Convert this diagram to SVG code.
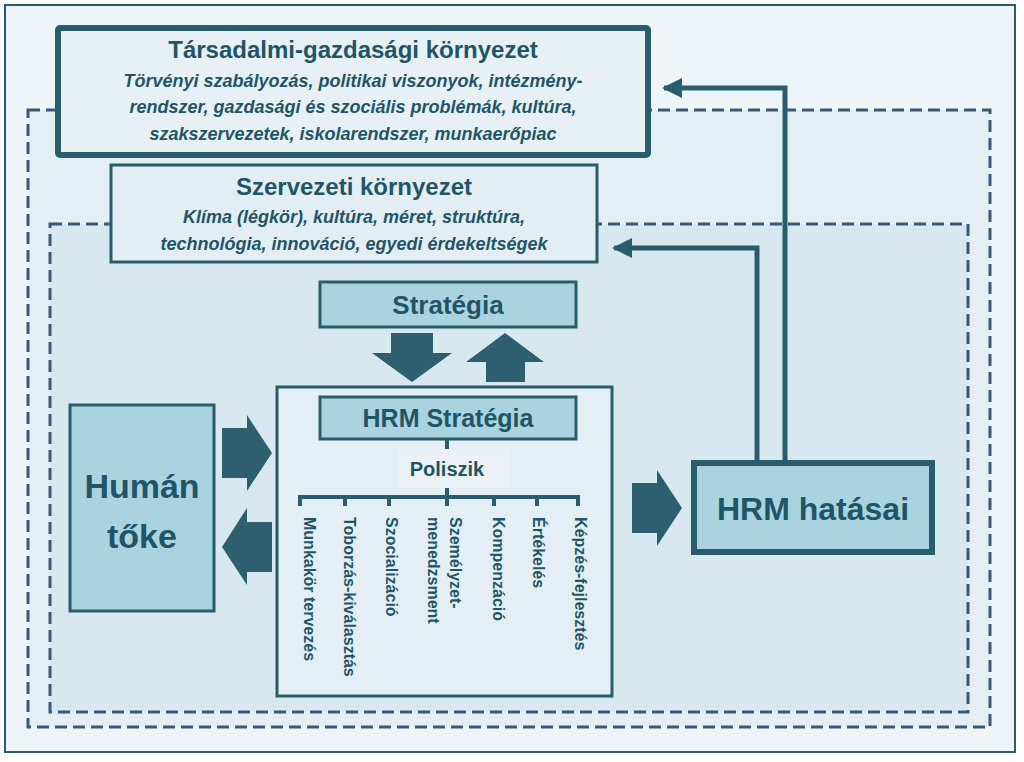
<svg xmlns="http://www.w3.org/2000/svg" width="1024" height="762" viewBox="0 0 1024 762">
<defs>
<style>
.b{font-family:"Liberation Sans",Arial,sans-serif;font-weight:bold;fill:#1f5566}
.i{font-family:"Liberation Sans",Arial,sans-serif;font-style:italic;font-weight:bold;fill:#1f5566}
.n{stroke:#2a5d6b;stroke-width:3}
.d{fill:none;stroke:#3b5876;stroke-width:3;stroke-dasharray:12,6}
.ar{fill:#2d5f6e}
.vt{font-family:"Liberation Sans",Arial,sans-serif;font-weight:bold;font-size:16px;fill:#1f5566}
</style>
<marker id="ah" viewBox="0 0 10 10" refX="9" refY="5" markerWidth="4" markerHeight="4" orient="auto"><path d="M0,0 L10,5 L0,10 z" fill="#2a5d6b"/></marker>
</defs>
<rect x="0" y="0" width="1024" height="762" fill="#fff"/>
<rect x="5" y="5" width="1010" height="747" fill="#eef5f9" stroke="#2a5d6b" stroke-width="2"/>
<rect x="28" y="110" width="962" height="617" fill="#e3eff5"/>
<rect x="28" y="110" width="962" height="617" class="d"/>
<rect x="50" y="224" width="918" height="488" fill="#d7e8f0"/>
<rect x="50" y="224" width="918" height="488" class="d"/>
<g class="ar">
<polygon points="391,333 433,333 433,353 452,353 412,382 372,353 391,353"/>
<polygon points="486,382 525,382 525,362 544,362 505,333 466,362 486,362"/>
<polygon points="222,428 247,428 247,415 272,453 247,491 247,478 222,478"/>
<polygon points="272,522 247,522 247,508 222,547 247,585 247,572 272,572"/>
<polygon points="632,483 657,483 657,470 682,508 657,546 657,533 632,533"/>
</g>
<g id="tarsadalmi">
<rect x="58" y="28" width="590" height="127" fill="#e6f0f5" stroke="#2a5d6b" stroke-width="6" rx="2"/>
<text x="353" y="58" text-anchor="middle" class="b" font-size="24">Társadalmi-gazdasági környezet</text>
<text x="353" y="87" text-anchor="middle" class="i" font-size="18">Törvényi szabályozás, politikai viszonyok, intézmény-</text>
<text x="353" y="113" text-anchor="middle" class="i" font-size="18">rendszer, gazdasági és szociális problémák, kultúra,</text>
<text x="353" y="140" text-anchor="middle" class="i" font-size="18">szakszervezetek,  iskolarendszer, munkaerőpiac</text>
</g>
<g id="szervezeti">
<rect x="111" y="165" width="486" height="97" fill="#e3eef4" class="n"/>
<text x="354" y="195" text-anchor="middle" class="b" font-size="24">Szervezeti környezet</text>
<text x="354" y="223" text-anchor="middle" class="i" font-size="18">Klíma (légkör), kultúra, méret, struktúra,</text>
<text x="354" y="250" text-anchor="middle" class="i" font-size="18">technológia, innováció, egyedi érdekeltségek</text>
</g>
<g id="strategia">
<rect x="320" y="282" width="256" height="45" fill="#a8d3df" class="n"/>
<text x="448" y="314" text-anchor="middle" class="b" font-size="26">Stratégia</text>
</g>
<g id="hrm">
<rect x="277" y="387" width="335" height="309" fill="#e3eff5" class="n"/>
<rect x="320" y="397" width="256" height="42" fill="#a8d3df" class="n"/>
<text x="448" y="427" text-anchor="middle" class="b" font-size="25">HRM Stratégia</text>
<rect x="397" y="449" width="113" height="39" fill="#eaf2f6"/>
<text x="447" y="476" text-anchor="middle" class="b" font-size="20">Poliszik</text>
<text class="vt" transform="translate(304,517) rotate(90)">Munkakör  tervezés</text>
<text class="vt" transform="translate(344,517) rotate(90)">Toborzás-kiválasztás</text>
<text class="vt" transform="translate(386,517) rotate(90)">Szocializáció</text>
<text class="vt" transform="translate(450,517) rotate(90)">Személyzet-</text>
<text class="vt" transform="translate(428,517) rotate(90)">menedzsment</text>
<text class="vt" transform="translate(493,517) rotate(90)">Kompenzáció</text>
<text class="vt" transform="translate(533,517) rotate(90)">Értékelés</text>
<text class="vt" transform="translate(575,517) rotate(90)">Képzés-fejlesztés</text>
</g>
<g id="human">
<rect x="70" y="405" width="144" height="206" fill="#a8d3df" class="n"/>
<text x="142" y="498" text-anchor="middle" class="b" font-size="34">Humán</text>
<text x="142" y="548" text-anchor="middle" class="b" font-size="34">tőke</text>
</g>
<g id="hatasai">
<rect x="694" y="463" width="238" height="89" fill="#a8d3df" stroke="#2a5d6b" stroke-width="6"/>
<text x="813" y="520" text-anchor="middle" class="b" font-size="32">HRM hatásai</text>
</g>
<g id="connectors" fill="none" stroke="#2a5d6b" stroke-width="5">
<polyline points="785,460 785,88 664,88" marker-end="url(#ah)"/>
<polyline points="757,460 757,248 614,248" marker-end="url(#ah)"/>
<g stroke-width="4"><line x1="447" y1="439" x2="447" y2="449"/><line x1="447" y1="488" x2="447" y2="497"/>
<line x1="298" y1="497" x2="580" y2="497"/>
<path d="M300,497v9M345,497v9M389,497v9M447,497v9M494,497v9M537,497v9M578,497v9"/></g>
</g>
</svg>
